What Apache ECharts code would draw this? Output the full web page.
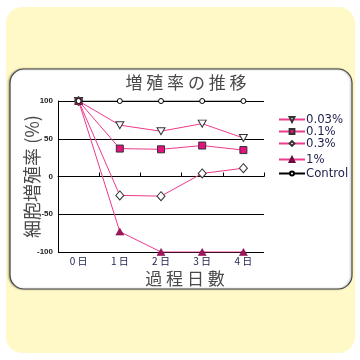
<!DOCTYPE html>
<html><head><meta charset="utf-8">
<script src="https://cdn.jsdelivr.net/npm/echarts@6/dist/echarts.min.js"></script>
<style>html,body{margin:0;padding:0;background:#fff}#c{width:360px;height:360px}</style>
</head><body><div id="c"></div>
<script>
var categories = ['0 日','1 日','2 日','3 日','4 日'];
var s003 = [100, 68, 60, 70, 51];
var s01 = [100, 37, 36, 41, 35];
var s03 = [100, -25, -26, 4, 11];
var s1 = [100, -73, -100, -100, -100];
var control = [100, 100, 100, 100, 100];
var seriesNames = ['0.03%','0.1%','0.3%','1%','Control'];
var yTicks = [-100, -50, 0, 50, 100];

var pink = '#ec3a8c';
var cjk = '"Noto Sans CJK JP", "Noto Sans CJK SC", sans-serif';
var chart = echarts.init(document.getElementById('c'));
var downTri = 'path://M0,0 L10,0 L5,9 Z';
function legendAt(name, top, h){
  return {data:[name], left:278, top:top, padding:0, itemWidth:26, itemHeight:h, itemGap:0,
    textStyle:{fontSize:13, color:'#1b1f4a', fontFamily:'"Liberation Sans Narrow", "DejaVu Sans Condensed", sans-serif', padding:[0,0,0,-4]}};
}
chart.setOption({
  animation:false,
  graphic:[
    {type:'rect', shape:{x:6,y:7,width:349,height:346,r:16}, style:{fill:'#fff9c8'}, z:-10},
    {type:'rect', shape:{x:10,y:69,width:342,height:220,r:[14,14,14,14]}, style:{fill:'#fff', stroke:'#444', lineWidth:1.2, shadowColor:'rgba(0,0,0,0.3)', shadowBlur:2, shadowOffsetX:-1}, z:-9}
  ],
  title:[
    {text:'増 殖 率 の 推 移', left:181, textAlign:'center', top:69,
      textStyle:{fontSize:17, fontWeight:'normal', color:'#4a4a4a', fontFamily:cjk}},
    {text:'過 程 日 數', left:180, textAlign:'center', top:265,
      textStyle:{fontSize:17, fontWeight:'normal', color:'#4a4a4a', fontFamily:cjk}}
  ],
  legend:[
    legendAt(seriesNames[0],113,6),
    legendAt(seriesNames[1],125,6),
    legendAt(seriesNames[2],137,6),
    legendAt(seriesNames[3],153,6),
    legendAt(seriesNames[4],167,5)
  ],
  grid:{left:58, right:96, top:101, bottom:108},
  xAxis:[
    {type:'category', data:categories, position:'bottom',
      axisLine:{show:false, onZero:false}, axisTick:{show:false},
      axisLabel:{fontSize:10, color:'#1b1f4a', margin:4, fontFamily:cjk}},
    {type:'category', data:categories, position:'bottom',
      axisLine:{show:true, onZero:true, lineStyle:{color:'#000', width:1}},
      axisTick:{show:true, inside:true, length:4, lineStyle:{color:'#000'}},
      axisLabel:{show:false}}
  ],
  yAxis:{type:'value', min:yTicks[0], max:yTicks[yTicks.length-1], interval:50,
    name:'細胞増殖率 (%)', nameLocation:'middle', nameGap:17, nameRotate:90, nameMoveOverlap:false,
    nameTextStyle:{fontSize:18, color:'#4a4a4a', fontFamily:cjk},
    axisLine:{show:true, lineStyle:{color:'#000', width:1}},
    axisTick:{show:false},
    axisLabel:{fontSize:8, fontWeight:'bold', color:'#222', margin:5},
    splitLine:{lineStyle:{color:'#000', width:1}}},
  series:[
    {name:seriesNames[0], type:'line', data:s003, symbol:downTri, symbolSize:[8,7],
      lineStyle:{color:pink, width:1}, itemStyle:{color:'#fff', borderColor:'#333', borderWidth:1}, z:3},
    {name:seriesNames[1], type:'line', data:s01, symbol:'rect', symbolSize:7,
      lineStyle:{color:pink, width:1}, itemStyle:{color:'#e3127c', borderColor:'#333', borderWidth:1}, z:3},
    {name:seriesNames[2], type:'line', data:s03, symbol:'diamond', symbolSize:[8,9],
      lineStyle:{color:pink, width:1}, itemStyle:{color:'#fff', borderColor:'#333', borderWidth:1}, z:3},
    {name:seriesNames[3], type:'line', data:s1, symbol:'triangle', symbolSize:[8,7],
      lineStyle:{color:pink, width:1}, itemStyle:{color:'#a3125f', borderColor:'#6a0a3e', borderWidth:0.5}, z:3},
    {name:seriesNames[4], type:'line', data:control, symbol:'circle', symbolSize:5,
      lineStyle:{color:'#000', width:1}, itemStyle:{color:'#fff', borderColor:'#000', borderWidth:1}, z:4}
  ]
});
</script></body></html>
